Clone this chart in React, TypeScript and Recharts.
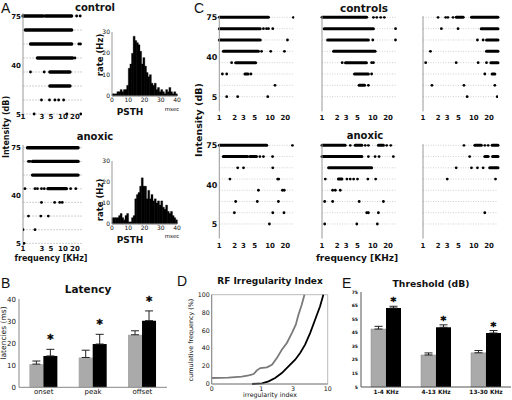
import React from 'react';
import {
  ScatterChart, Scatter, BarChart, Bar, LineChart, Line, XAxis, YAxis,
  ReferenceLine, ReferenceArea, ErrorBar, LabelList,
} from 'recharts';

const SANS = '"DejaVu Sans", Verdana, sans-serif';
const LETTER = '"Liberation Sans", Arial, sans-serif';

const dbLevels = [75, 65, 55, 45, 35, 25, 15, 5];
const dbTicks = [5, 40, 75];
const freqTicksA = [1, 3, 5, 10, 20];
const freqTicksC = [1, 2, 3, 5, 10, 20];

// rasters: runs are [dB, from kHz, to kHz] where spikes merge into a bar, spikes are [dB, kHz]
const aCtrlRuns = [[75, 1, 3.2], [75, 3.6, 16.5], [65, 1.14, 16.6], [55, 1.54, 16.6], [45, 2.3, 17.5], [35, 4.7, 15], [25, 4.7, 15]];
const aCtrlSpikes = [[75, 22], [75, 27], [55, 25], [55, 27.5], [45, 20], [35, 1.54], [35, 3.4], [15, 2.9], [15, 4.6], [15, 6.3], [15, 7.8], [15, 10.4], [5, 1.9], [5, 12.5], [5, 28]];
const aAnoxRuns = [[75, 1.29, 24], [65, 1.73, 24], [55, 1.73, 24], [45, 4.2, 12.2]];
const aAnoxSpikes = [[65, 1.37], [65, 1.5], [45, 1.12], [45, 2], [45, 2.3], [45, 2.9], [45, 3.4], [45, 15.6], [45, 21], [35, 2.9], [35, 6.2], [35, 8.3], [35, 9.6], [25, 1.37], [25, 2.8], [25, 4.3], [15, 1], [15, 2], [5, 1.06]];

const c1Runs = [[75, 1, 9.3], [65, 1, 6.4], [55, 1, 6.4], [45, 1.2, 5.9], [35, 2.1, 5.2], [25, 3.2, 3.7]];
const c1Spikes = [[75, 28.8], [65, 7.4], [65, 8.5], [65, 9.3], [65, 11.3], [55, 22], [45, 6.8], [45, 10.3], [45, 19.2], [35, 1.75], [25, 1.15], [25, 1.4], [25, 4.2], [15, 12.5], [5, 1.4], [5, 2.3], [5, 9]];
const c2Runs = [[75, 1, 7.6], [65, 1.1, 10.3], [55, 1.29, 8.2], [45, 1.69, 11.1], [35, 2.9, 7.5], [25, 4.37, 8.2], [15, 5.4, 6.9]];
const c2Spikes = [[75, 10.3], [75, 12], [75, 14.3], [75, 16.9], [65, 28.1], [55, 10], [55, 28], [35, 2.5], [35, 9.5], [35, 10.3], [25, 9.5], [15, 8.2]];
const c3Runs = [[75, 4.5, 6.2], [75, 9, 30], [65, 14, 30], [55, 17.8, 30], [45, 17.8, 30], [35, 21.7, 30], [25, 23, 26]];
const c3Spikes = [[75, 1.98], [75, 2.8], [75, 3.1], [75, 3.9], [65, 2.3], [65, 4.9], [55, 11.8], [55, 15.3], [45, 1.4], [35, 1.13], [35, 4.5], [35, 12.2], [35, 17.8], [25, 16.5], [15, 1.5], [15, 6.4], [15, 26], [5, 7.4], [5, 29]];
const c4Runs = [[75, 1, 8.6], [65, 1.2, 3.6], [65, 4, 5.4]];
const c4Spikes = [[75, 27.6], [65, 6.3], [65, 7.4], [65, 11.2], [55, 2.3], [55, 3], [55, 11.3], [45, 1.62], [45, 14.1], [45, 14.8], [35, 5.9], [35, 17.5], [35, 19], [25, 2.1], [25, 5.6], [25, 14.6], [15, 1.98], [15, 11.3], [15, 18.8], [5, 9.7]];
const c5Runs = [[75, 1, 2.86], [75, 4.5, 6.1], [75, 12.9, 16.2], [65, 1, 6.1], [55, 1.35, 9.5], [45, 2.1, 2.47]];
const c5Spikes = [[75, 3.6], [75, 7.1], [75, 8.2], [75, 18.8], [75, 22.6], [65, 8.2], [65, 11.1], [65, 13.3], [65, 25.4], [45, 1.16], [45, 3.1], [45, 3.6], [45, 4.2], [45, 5], [45, 8], [45, 11.4], [35, 1.62], [35, 1.83], [35, 2.29], [25, 1.13], [25, 1.62], [25, 5.4], [25, 16.2], [15, 7.6], [15, 8.2], [15, 12.9], [5, 1.13], [5, 4.85], [5, 12.3]];
const c6Runs = [[75, 10.5, 14.1], [75, 23, 30], [65, 16.5, 19.2], [65, 23.5, 30], [55, 20.6, 30]];
const c6Spikes = [[75, 6.4], [75, 16.5], [75, 19.2], [65, 8.3], [55, 4.5], [55, 9], [55, 11.8], [55, 15.3], [45, 3], [45, 26.8], [15, 16.5]];

// PSTH, 1 ms bins from 0 to 40 ms, rate in Hz
const psthCtrl = [1, 1, 1, 2, 2, 3, 2, 3, 3, 5, 13, 15, 20, 28, 26, 25, 24, 21, 15, 18, 14, 11, 9, 10, 6, 5, 6, 3, 4, 2, 3, 2, 1, 3, 2, 4, 2, 1, 2, 1];
const psthAnox = [3, 3, 3, 3, 4, 5, 3, 2, 4, 5, 1, 1, 3, 4, 12, 14, 15, 18, 22, 18, 18, 12, 16, 12, 14, 11, 12, 10, 11, 9, 11, 8, 7, 9, 6, 5, 6, 4, 3, 2];

const latCats = ['onset', 'peak', 'offset'];
const latCtrl = [10.5, 13.5, 23.8];
const latCtrlErr = [1.4, 3.3, 1.8];
const latAnox = [14.2, 19.6, 30.2];
const latAnoxErr = [3, 4.4, 4.4];

const thrCats = ['1-4 KHz', '4-13 KHz', '13-30 KHz'];
const thrCtrl = [47.7, 28.6, 30.2];
const thrCtrlErr = [2, 1.5, 1.7];
const thrAnox = [63.2, 49, 44.8];
const thrAnoxErr = [1.3, 1.8, 1.8];

const rfCtrlX = [0.18, 0.32, 0.51, 0.65, 0.77, 0.86, 0.97, 1.22, 1.45, 1.72, 2.04, 2.43, 2.89, 3.31, 3.63, 4.07, 4.47];
const rfCtrlY = [6.7, 7.1, 8.2, 9.7, 11.2, 15.3, 17.9, 18.7, 21.6, 29, 38.4, 45.9, 57, 66.4, 77.6, 88.8, 100];
const rfAnoxX = [0.73, 1.03, 1.29, 1.62, 2.04, 2.57, 3.24, 3.85, 4.57, 5.44, 6.46, 7.68, 8.6];
const rfAnoxY = [0, 0.7, 3, 6.7, 12.3, 19.8, 27.2, 34.7, 44, 57, 72, 87, 100];

const tickText = (size: number, weight: any, dy: number, anchor = 'middle', fmt?: (v: any) => string) => (p: any) => (
  <text x={p.x} y={p.y} dy={dy} textAnchor={anchor} fontSize={size} fontWeight={weight} fontFamily={SANS} fill="#111">
    {fmt ? fmt(p.payload.value) : p.payload.value}
  </text>
);

function Raster(p: any) {
  const w = p.yw + p.plotW + 3;
  const h = p.plotTop + p.plotH + 16;
  const pts = p.spikes.map(([db, f]: number[]) => ({ f, db }));
  return (
    <div style={{ position: 'absolute', left: p.left - p.yw, top: 0 }}>
      <ScatterChart width={w} height={h} margin={{ top: p.plotTop, right: 3, bottom: 0, left: 0 }}>
        <XAxis type="number" dataKey="f" scale="log" domain={[1, 30]} ticks={p.ticks} interval={0} allowDataOverflow
          axisLine={false} tickLine={false} tickSize={0} tickMargin={0} height={16}
          tick={tickText(p.xFont, 'bold', p.xDy)} />
        <YAxis type="number" dataKey="db" domain={p.domain} ticks={dbTicks} interval={0} allowDataOverflow width={p.yw}
          axisLine={{ stroke: '#999' }} tickLine={false} tickSize={0} tickMargin={2}
          tick={p.showY ? tickText(p.yFont, 'bold', p.yFont * 0.36, 'end') : false} />
        {dbLevels.map((l) => (
          <ReferenceLine key={l} y={l} stroke="#c4c4c4" strokeWidth={0.8} strokeDasharray={p.dash} />
        ))}
        {p.runs.map(([db, a, b]: number[], i: number) => (
          <ReferenceLine key={'r' + i} segment={[{ x: a, y: db }, { x: b, y: db }]} stroke="#000" strokeWidth={p.runW} strokeLinecap="round" />
        ))}
        <Scatter data={pts} isAnimationActive={false}
          shape={(s: any) => <circle cx={s.cx} cy={s.cy} r={1.4} fill="#000" />} />
      </ScatterChart>
    </div>
  );
}

function Psth({ top, plotH, values }: any) {
  const data = values.map((v: number, i: number) => ({ t: i + 0.5, v }));
  return (
    <div style={{ position: 'absolute', left: 95, top: top - 7 }}>
      <BarChart width={88} height={plotH + 19} data={data} margin={{ top: 7, right: 6, bottom: 0, left: 0 }} barCategoryGap={0} barGap={0}>
        <XAxis type="number" dataKey="t" domain={[0, 40]} ticks={[0, 10, 20, 30, 40]} interval={0} height={12}
          axisLine={{ stroke: '#999' }} tickLine={false} tickSize={0} tickMargin={0} tick={tickText(6, 'normal', 6)} />
        <YAxis type="number" domain={[0, 30]} ticks={[0, 10, 20, 30]} interval={0} width={17}
          axisLine={{ stroke: '#999' }} tickLine={false} tickSize={0} tickMargin={2} tick={tickText(6, 'normal', 2, 'end')} />
        <Bar dataKey="v" fill="#000" stroke="#000" strokeWidth={0.3} isAnimationActive={false} />
      </BarChart>
    </div>
  );
}

const starLabel = (vals: number[], errs: number[], base: number, lift: number, size: number) => (p: any) => {
  const vb = p.viewBox || p;
  const val = Number(p.value);
  const i = typeof p.index === 'number' ? p.index : vals.indexOf(val);
  const py = vb.height / (val - base);
  return (
    <text x={vb.x + vb.width / 2} y={vb.y - errs[i] * py - lift} textAnchor="middle" fontSize={size}
      fontWeight="bold" fontFamily={SANS} fill="#000" stroke="#000" strokeWidth={0.4}>*</text>
  );
};

function Latency() {
  const data = latCats.map((c, i) => ({
    c, ctrl: latCtrl[i], ctrlErr: [0, latCtrlErr[i]], anox: latAnox[i], anoxErr: [0, latAnoxErr[i]],
  }));
  return (
    <div style={{ position: 'absolute', left: 0, top: 285 }}>
      <BarChart width={172} height={115} data={data} margin={{ top: 14, right: 5, bottom: 0, left: 0 }} barCategoryGap="21%" barGap={0}>
        <XAxis dataKey="c" interval={0} axisLine={{ stroke: '#888' }} tickLine={false} tickSize={0} tickMargin={0} height={12.7}
          tick={tickText(7, 'normal', 7)} />
        <YAxis type="number" domain={[0, 40]} ticks={[0, 10, 20, 30, 40]} interval={0} width={19}
          axisLine={{ stroke: '#888' }} tickLine={false} tickSize={0} tickMargin={3} tick={tickText(7, 'normal', 2.5, 'end')} />
        <Bar dataKey="ctrl" fill="#aaaaaa" isAnimationActive={false}>
          <ErrorBar dataKey="ctrlErr" width={4} stroke="#222" strokeWidth={1} />
        </Bar>
        <Bar dataKey="anox" fill="#000" isAnimationActive={false}>
          <ErrorBar dataKey="anoxErr" width={4} stroke="#222" strokeWidth={1} />
          <LabelList dataKey="anox" content={starLabel(latAnox, latAnoxErr, 0, 6, 12)} />
        </Bar>
      </BarChart>
    </div>
  );
}

function Threshold() {
  const data = thrCats.map((c, i) => ({
    c, ctrl: thrCtrl[i], ctrlErr: [0, thrCtrlErr[i]], anox: thrAnox[i], anoxErr: [0, thrAnoxErr[i]],
  }));
  return (
    <div style={{ position: 'absolute', left: 340, top: 280 }}>
      <BarChart width={172} height={120} data={data} margin={{ top: 12, right: 1, bottom: 0, left: 0 }} barCategoryGap="20%" barGap={0}>
        <XAxis dataKey="c" interval={0} axisLine={{ stroke: '#555' }} tickLine={false} tickSize={0} tickMargin={0} height={13}
          tick={tickText(5.8, 'bold', 7)} />
        <YAxis type="number" domain={[5, 75]} ticks={[5, 15, 25, 35, 45, 55, 65, 75]} interval={0} width={21}
          axisLine={{ stroke: '#555' }} tickLine={false} tickSize={0} tickMargin={3} tick={tickText(4.5, 'bold', 1.5, 'end')} />
        <Bar dataKey="ctrl" fill="#aaaaaa" stroke="#888" strokeWidth={0.5} isAnimationActive={false}>
          <ErrorBar dataKey="ctrlErr" width={4} stroke="#222" strokeWidth={1} />
        </Bar>
        <Bar dataKey="anox" fill="#000" isAnimationActive={false}>
          <ErrorBar dataKey="anoxErr" width={4} stroke="#222" strokeWidth={1} />
          <LabelList dataKey="anox" content={starLabel(thrAnox, thrAnoxErr, 5, 1, 11)} />
        </Bar>
      </BarChart>
    </div>
  );
}

function Irregularity() {
  const ctrl = rfCtrlX.map((x, i) => ({ x, y: rfCtrlY[i] }));
  const anox = rfAnoxX.map((x, i) => ({ x, y: rfAnoxY[i] }));
  return (
    <div style={{ position: 'absolute', left: 190, top: 280 }}>
      <LineChart width={150} height={120} margin={{ top: 14.7, right: 12.3, bottom: 0, left: 0 }}>
        <XAxis type="number" dataKey="x" scale="log" domain={[0.18, 10]} ticks={[0.18, 1, 3, 10]} interval={0} allowDataOverflow
          height={16} axisLine={{ stroke: '#888' }} tickLine={false} tickSize={0} tickMargin={0}
          tick={tickText(6.3, 'normal', 7, 'middle', (v) => (v < 0.5 ? '0' : String(v)))} />
        <YAxis type="number" dataKey="y" domain={[0, 100]} ticks={[0, 20, 40, 60, 80, 100]} interval={0} width={21.7}
          axisLine={{ stroke: '#888' }} tickLine={false} tickSize={0} tickMargin={2} tick={tickText(6.3, 'normal', 2.2, 'end')} />
        <ReferenceArea x1={0.18} x2={10} y1={0} y2={100} fill="none" stroke="#aaa" strokeWidth={0.8} />
        <Line data={ctrl} dataKey="y" stroke="#7a7a7a" strokeWidth={1.8} dot={false} isAnimationActive={false} />
        <Line data={anox} dataKey="y" stroke="#000" strokeWidth={1.8} dot={false} isAnimationActive={false} />
      </LineChart>
    </div>
  );
}

type Lbl = { t: string; x: number; y: number; s: number; b?: boolean; r?: boolean; f?: string; a?: string };
const labels: Lbl[] = [
  { t: 'A', x: 1, y: 13, s: 14, f: LETTER, a: 'start' },
  { t: 'control', x: 95, y: 11, s: 10, b: true },
  { t: 'anoxic', x: 95, y: 140, s: 10, b: true },
  { t: 'Intensity (dB)', x: 8.5, y: 127, s: 8, b: true, r: true },
  { t: 'frequency [KHz]', x: 51, y: 261, s: 8, b: true },
  { t: 'rate (Hz)', x: 103, y: 55, s: 8.5, b: true, r: true },
  { t: 'rate (Hz)', x: 103, y: 200, s: 8.5, b: true, r: true },
  { t: 'PSTH', x: 130, y: 115, s: 9, b: true },
  { t: 'PSTH', x: 130, y: 243, s: 9, b: true },
  { t: 'msec', x: 172, y: 111, s: 5.5 },
  { t: 'msec', x: 172, y: 238, s: 5.5 },
  { t: 'C', x: 194, y: 13, s: 14, f: LETTER, a: 'start' },
  { t: 'controls', x: 364, y: 12, s: 10.5, b: true },
  { t: 'anoxic', x: 365, y: 139, s: 10, b: true },
  { t: 'Intensity (dB)', x: 202, y: 120, s: 9.5, b: true, r: true },
  { t: 'frequency [KHz]', x: 357, y: 261, s: 9, b: true },
  { t: 'B', x: 1, y: 288, s: 14, f: LETTER, a: 'start' },
  { t: 'Latency', x: 88, y: 293, s: 10.5, b: true },
  { t: 'latencies (ms)', x: 6, y: 333, s: 7.5, r: true },
  { t: 'D', x: 177, y: 286, s: 14, f: LETTER, a: 'start' },
  { t: 'RF Irregularity Index', x: 270, y: 284, s: 9, b: true },
  { t: 'cumulative frequency (%)', x: 193, y: 340, s: 6.4, r: true },
  { t: 'irregularity index', x: 270, y: 397, s: 6.3 },
  { t: 'E', x: 342, y: 288, s: 14, f: LETTER, a: 'start' },
  { t: 'Threshold (dB)', x: 431, y: 287, s: 9.2, b: true },
];

export default function App() {
  return (
    <div style={{ position: 'absolute', left: 0, top: 0, width: 512, height: 400, background: '#fff', overflow: 'hidden' }}>
      <Raster left={23} plotTop={13.2} plotH={103.6} plotW={59} yw={23} domain={[3, 77]} ticks={freqTicksA}
        runs={aCtrlRuns} spikes={aCtrlSpikes} showY xFont={7} xDy={2} yFont={7} runW={3.3} dash="2 1" />
      <Raster left={23} plotTop={145} plotH={101.1} plotW={59} yw={23} domain={[3, 77]} ticks={freqTicksA}
        runs={aAnoxRuns} spikes={aAnoxSpikes} showY xFont={7} xDy={5} yFont={7} runW={3.3} dash="2 1" />
      <Psth top={32} plotH={64} values={psthCtrl} />
      <Psth top={161} plotH={63} values={psthAnox} />

      <Raster left={219.3} plotTop={16.2} plotH={95.2} plotW={75} yw={19.3} domain={[-8, 76]} ticks={freqTicksC}
        runs={c1Runs} spikes={c1Spikes} showY xFont={7} xDy={8.6} yFont={8} runW={3} dash="1 1.5" />
      <Raster left={321.7} plotTop={16.2} plotH={95.2} plotW={75} yw={4} domain={[-8, 76]} ticks={freqTicksC}
        runs={c2Runs} spikes={c2Spikes} xFont={7} xDy={8.6} yFont={8} runW={3} dash="1 1.5" />
      <Raster left={423.3} plotTop={16.2} plotH={95.2} plotW={75} yw={4} domain={[-8, 76]} ticks={freqTicksC}
        runs={c3Runs} spikes={c3Spikes} xFont={7} xDy={8.6} yFont={8} runW={3} dash="1 1.5" />
      <Raster left={219.3} plotTop={144.2} plotH={94.4} plotW={75} yw={19.3} domain={[-8, 76]} ticks={freqTicksC}
        runs={c4Runs} spikes={c4Spikes} showY xFont={7} xDy={9.4} yFont={8} runW={3} dash="1 1.5" />
      <Raster left={321.7} plotTop={144.2} plotH={94.4} plotW={75} yw={4} domain={[-8, 76]} ticks={freqTicksC}
        runs={c5Runs} spikes={c5Spikes} xFont={7} xDy={9.4} yFont={8} runW={3} dash="1 1.5" />
      <Raster left={423.3} plotTop={144.2} plotH={94.4} plotW={75} yw={4} domain={[-8, 76]} ticks={freqTicksC}
        runs={c6Runs} spikes={c6Spikes} xFont={7} xDy={9.4} yFont={8} runW={3} dash="1 1.5" />

      <Latency />
      <Irregularity />
      <Threshold />

      <svg width={512} height={400} style={{ position: 'absolute', left: 0, top: 0, pointerEvents: 'none' }}>
        {labels.map((l, i) => (
          <text key={i} x={l.x} y={l.y} fontSize={l.s} fontWeight={l.b ? 'bold' : 'normal'} fontFamily={l.f || SANS}
            textAnchor={l.a || 'middle'} fill="#111" transform={l.r ? `rotate(-90 ${l.x} ${l.y})` : undefined}>
            {l.t}
          </text>
        ))}
      </svg>
    </div>
  );
}
